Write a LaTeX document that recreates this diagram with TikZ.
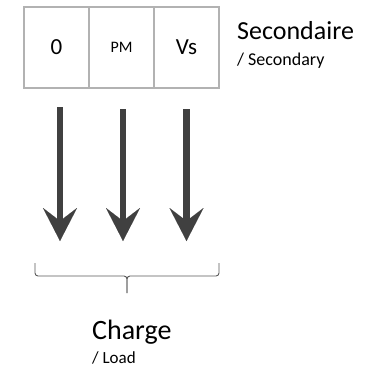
\documentclass[tikz,border=0pt]{standalone}
\usepackage{fontspec}
\setmainfont{Carlito}
\usetikzlibrary{arrows.meta,positioning}

\begin{document}
\begin{tikzpicture}[x=1pt,y=-1pt,
  cell/.style={draw=black!30,line width=1.3pt,minimum width=65pt,minimum height=81pt,
    inner sep=0pt,outer sep=0pt},
  flow/.style={draw=black!75,line width=6.5pt,
    -{Stealth[length=33pt,width=34pt,inset=13pt,line width=0.01pt]}},
  brace/.style={draw=black!65,line width=0.9pt,rounded corners=3pt},
  label/.style={anchor=base west,inner sep=0pt}]
\useasboundingbox (0,0) rectangle (370,368);

% secondary side
\node[cell,font=\fontsize{23}{27}\selectfont] (zero) at (56.5,47.5) {0};
\node[cell,font=\fontsize{16}{19}\selectfont,right=0pt of zero] (pm) {PM};
\node[cell,font=\fontsize{23}{27}\selectfont,right=0pt of pm] (vs) {Vs};

\node[label,font=\fontsize{26}{30}\selectfont] (sec) at (237,39) {Secondaire};
\node[label,font=\fontsize{18}{21}\selectfont] (secen) at (237,65) {/ Secondary};

% arrows down to the load
\foreach \n/\x/\y in {0/60/107,1/123/109,2/186.5/109}{
  \coordinate (top\n) at (\x,\y);
  \coordinate (tip\n) at (\x,241);
  \draw[flow] (top\n) -- (tip\n);
}

% brace
\coordinate (bl) at (35,263);
\coordinate (br) at (219,263);
\coordinate (bc) at (127,276);
\coordinate (bm) at (127,293);
\draw[brace] (bl) |- (bc) -- (bm);
\draw[brace] (br) |- (bc) -- (bm);

\node[label,font=\fontsize{28}{32}\selectfont] (load) at (92,339) {Charge};
\node[label,font=\fontsize{17}{20}\selectfont] (loaden) at (92,363) {/ Load};

\end{tikzpicture}
\end{document}
